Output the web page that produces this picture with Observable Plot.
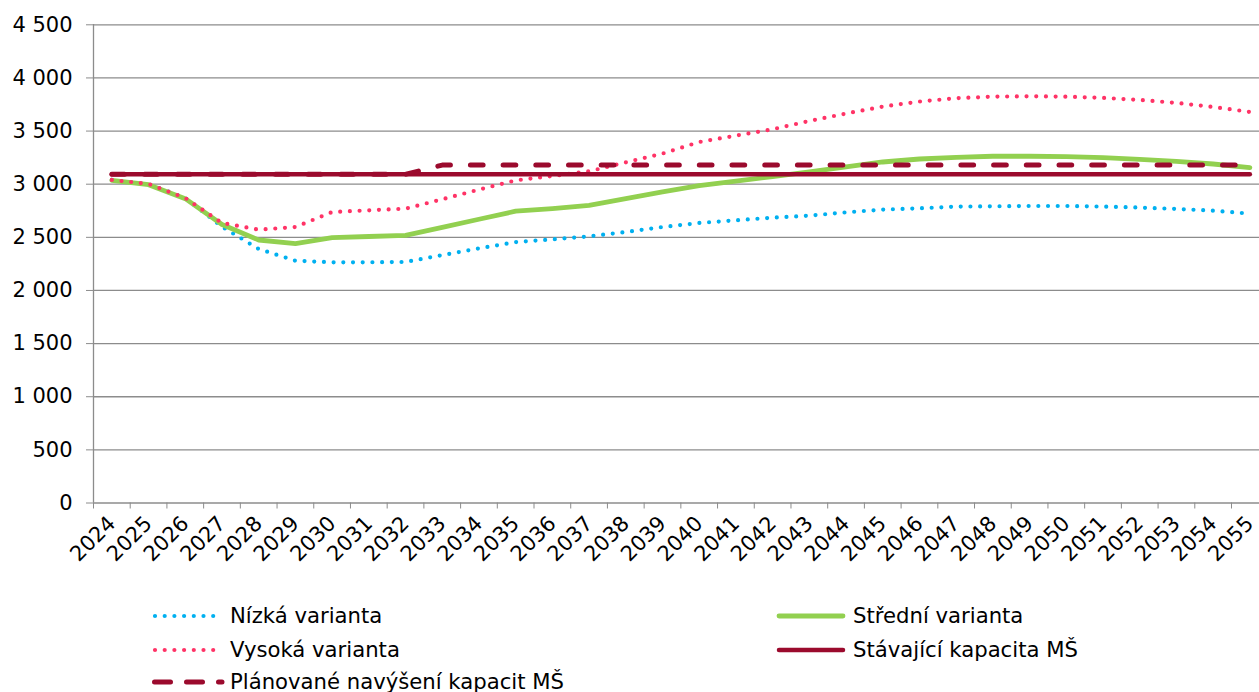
<!DOCTYPE html>
<html><head><meta charset="utf-8">
<script src="https://cdn.jsdelivr.net/npm/d3@7"></script>
<script src="https://cdn.jsdelivr.net/npm/@observablehq/plot@0.6"></script>
<style>
body{margin:0;background:#fff;width:1259px;height:692px;overflow:hidden;position:relative;font-family:"DejaVu Sans",Verdana,sans-serif;}
#chart svg{max-width:none;display:block;}
.item{position:absolute;height:24px;line-height:24px;font-size:21.2px;color:#000;white-space:nowrap;}
.item svg{position:absolute;left:0;top:7px;}
.item span{position:absolute;top:0;}
</style></head><body>
<div id="chart"></div>
<div id="legend"></div>
<script>
const years = [2024,2025,2026,2027,2028,2029,2030,2031,2032,2033,2034,2035,2036,2037,2038,2039,2040,2041,2042,2043,2044,2045,2046,2047,2048,2049,2050,2051,2052,2053,2054,2055];
const nizka = [3040,3000,2870,2600,2390,2280,2265,2265,2268,2333,2396,2455,2481,2509,2550,2597,2635,2660,2685,2704,2735,2761,2773,2789,2792,2795,2795,2789,2780,2767,2751,2723];
const stredni = [3037,2995,2864,2620,2475,2441,2497,2508,2519,2594,2670,2746,2770,2801,2864,2927,2987,3030,3071,3115,3162,3209,3237,3253,3263,3263,3260,3250,3234,3215,3190,3156];
const vysoka = [3040,3003,2870,2635,2572,2597,2738,2754,2770,2858,2949,3036,3077,3121,3206,3288,3397,3457,3517,3595,3665,3730,3778,3809,3824,3827,3824,3812,3793,3765,3727,3680];
const stavajici = [3093,3093,3093,3093,3093,3093,3093,3093,3093,3093,3093,3093,3093,3093,3093,3093,3093,3093,3093,3093,3093,3093,3093,3093,3093,3093,3093,3093,3093,3093,3093,3093];
const planovane = [3093,3093,3093,3093,3093,3093,3093,3093,3093,3180,3180,3180,3180,3180,3180,3180,3180,3180,3180,3180,3180,3180,3180,3180,3180,3180,3180,3180,3180,3180,3180,3180];
const yTicks = [0,500,1000,1500,2000,2500,3000,3500,4000,4500];

const seriesNames = ["Nízká varianta","Střední varianta","Vysoká varianta","Stávající kapacita MŠ","Plánované navýšení kapacit MŠ"];
const seriesValues = [nizka, stredni, vysoka, stavajici, planovane];
const seriesColors = ["#00B0F0","#92D050","#FF3366","#9B0A2D","#9B0A2D"];
const styles = [
  {strokeWidth:4.2, strokeDasharray:"0 9.7", strokeLinecap:"round"},
  {strokeWidth:4.8, strokeLinecap:"round"},
  {strokeWidth:4.2, strokeDasharray:"0 9.7", strokeLinecap:"round"},
  {strokeWidth:4.5, strokeLinecap:"round"},
  {strokeWidth:5, strokeDasharray:"12.7 20", strokeLinecap:"round"}
];

const H = 595, yBottom = 502.5;
const fmt = d => d3.format(",")(d).replace(/,/g, " ");
const grid = "#8c8c8c";

const lineMarks = seriesValues.map((vals, k) =>
  Plot.line(years.map((y, i) => ({year: y, value: vals[i]})), {
    x: "year", y: "value", stroke: seriesColors[k], strokeLinejoin: "round", ...styles[k]
  })
);

const chart = Plot.plot({
  width: 1259, height: H,
  marginLeft: 93, marginRight: 0, marginTop: 24, marginBottom: H - yBottom,
  style: {fontFamily: "DejaVu Sans, Verdana, sans-serif", fontSize: "21px", color: "#000", background: "#fff"},
  x: {type: "linear", domain: [2023.5, 2055.5], range: [93, 1267.7]},
  y: {domain: [0, 4500], range: [yBottom, 24.3]},
  marks: [
    Plot.ruleY(yTicks, {stroke: grid, strokeWidth: 1.3}),
    Plot.ruleX([2023.5], {stroke: grid, strokeWidth: 1.3}),
    Plot.axisY({ticks: yTicks, tickSize: 7, tickPadding: 14, tickFormat: fmt, stroke: grid, fill: "#000", fontSize: 21, label: null}),
    Plot.axisX({ticks: years.map(y => y - 0.5), tickSize: 6, tickFormat: () => "", stroke: grid, label: null}),
    Plot.axisX({ticks: years, tickSize: 0, tickPadding: 17, tickRotate: -45, tickFormat: d => String(d), fill: "#000", fontSize: 21, label: null}),
    ...lineMarks
  ]
});
document.getElementById("chart").appendChild(chart);

// legend
const legendPos = [
  {left:152, top:604, text:78}, {left:776, top:604, text:77},
  {left:152, top:638, text:78}, {left:776, top:637.5, text:77},
  {left:152, top:670, text:78}
];
const legend = document.getElementById("legend");
seriesNames.forEach((name, k) => {
  const p = legendPos[k];
  const div = document.createElement("div");
  div.className = "item";
  div.style.left = p.left + "px";
  div.style.top = p.top + "px";
  const st = styles[k];
  let x1 = 3, x2 = 63, dash = st.strokeDasharray;
  if (k === 1 || k === 3) { x1 = 3; x2 = 67; }
  if (k === 4) { x1 = 2.5; x2 = 70; dash = "16 16"; }
  const svg = `<svg width="76" height="10"><line x1="${x1}" y1="5" x2="${x2}" y2="5" stroke="${seriesColors[k]}" stroke-width="${st.strokeWidth}" stroke-linecap="${st.strokeLinecap||'butt'}" ${dash?`stroke-dasharray="${dash}"`:''}/></svg>`;
  div.innerHTML = svg + `<span style="left:${p.text}px">${name}</span>`;
  legend.appendChild(div);
});
</script>
</body></html>
